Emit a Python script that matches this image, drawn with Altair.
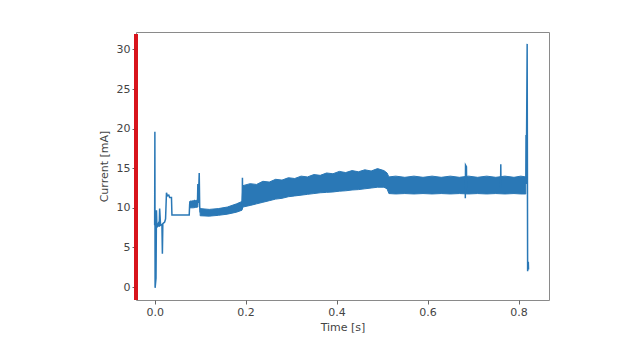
import altair as alt
import pandas as pd

# ---- sparse trace segments (time [s], current [mA]) ----
seg_a_t = [0.000, 0.0005, 0.001, 0.003, 0.004, 0.005, 0.008, 0.010, 0.011, 0.013, 0.016, 0.017,
           0.018, 0.022, 0.024, 0.026, 0.028, 0.031, 0.033, 0.037, 0.038, 0.076, 0.077, 0.079,
           0.085, 0.088, 0.092, 0.094, 0.095, 0.096, 0.098, 0.099, 0.100]
seg_a_i = [7.8, 19.6, -0.1, 1.1, 9.7, 7.5, 8.0, 7.6, 9.9, 7.8, 7.9, 4.2,
           8.0, 8.2, 8.6, 11.9, 11.5, 11.6, 11.3, 11.3, 9.1, 9.1, 10.5, 10.8,
           10.6, 10.9, 10.7, 10.4, 13.0, 10.6, 14.4, 10.2, 9.4]
seg_b_t = [0.1925, 0.1930, 0.1935]
seg_b_i = [9.9, 13.8, 10.2]
seg_c_t = [0.6830, 0.6835, 0.6855, 0.6860]
seg_c_i = [11.2, 15.4, 15.2, 12.5]
seg_d_t = [0.7605, 0.7610, 0.7615]
seg_d_i = [12.5, 15.5, 12.5]
seg_e_t = [0.8160, 0.8165, 0.8170, 0.8190, 0.8200, 0.8215, 0.8220]
seg_e_i = [13.0, 19.2, 13.0, 30.7, 2.0, 3.2, 2.2]

# ---- dense oscillation envelopes ----
block_t = [0.077, 0.085, 0.090, 0.095]
block_lo = [10.0, 10.0, 10.05, 10.1]
block_hi = [10.8, 10.9, 10.9, 11.0]

band_t = [0.100, 0.120, 0.140, 0.160, 0.180, 0.192, 0.194, 0.210, 0.224, 0.238, 0.252, 0.266,
          0.280, 0.294, 0.308, 0.322, 0.336, 0.350, 0.364, 0.378, 0.392, 0.406, 0.420, 0.434,
          0.448, 0.462, 0.476, 0.490, 0.504, 0.511, 0.515, 0.530, 0.550, 0.570, 0.590, 0.610,
          0.630, 0.650, 0.670, 0.690, 0.710, 0.730, 0.750, 0.770, 0.790, 0.805, 0.816]
band_lo = [9.0, 8.95, 9.05, 9.2, 9.45, 9.7, 10.1, 10.3, 10.5, 10.7, 10.9, 11.1,
           11.2, 11.4, 11.5, 11.6, 11.7, 11.8, 11.9, 11.95, 12.0, 12.1, 12.15, 12.25,
           12.3, 12.4, 12.5, 12.6, 12.6, 12.4, 11.8, 11.75, 11.8, 11.75, 11.8, 11.75,
           11.8, 11.75, 11.8, 11.75, 11.8, 11.75, 11.8, 11.75, 11.8, 11.75, 11.75]
band_hi = [9.9, 9.8, 9.9, 10.1, 10.5, 10.8, 12.8, 13.05, 12.95, 13.35, 13.25, 13.6,
           13.5, 13.8, 13.7, 14.0, 13.9, 14.2, 14.1, 14.4, 14.3, 14.6, 14.45, 14.7,
           14.55, 14.8, 14.65, 14.95, 14.7, 14.4, 13.9, 14.0, 13.85, 14.0, 13.85, 14.0,
           13.85, 14.0, 13.85, 14.0, 13.85, 14.0, 13.85, 14.0, 13.85, 14.0, 13.9]

x_ticks = [0.0, 0.2, 0.4, 0.6, 0.8]
y_ticks = [0, 5, 10, 15, 20, 25, 30]

rows = []
for name, ts, vs in [("a", seg_a_t, seg_a_i), ("b", seg_b_t, seg_b_i), ("c", seg_c_t, seg_c_i),
                     ("d", seg_d_t, seg_d_i), ("e", seg_e_t, seg_e_i)]:
    for k, (t, v) in enumerate(zip(ts, vs)):
        rows.append({"t": t, "i": v, "seg": name, "k": k})
line_df = pd.DataFrame(rows)
band_df = pd.concat([
    pd.DataFrame({"t": block_t, "lo": block_lo, "hi": block_hi, "g": "block"}),
    pd.DataFrame({"t": band_t, "lo": band_lo, "hi": band_hi, "g": "band"}),
], ignore_index=True)

blue = "#2a78b6"
xscale = alt.Scale(domain=[-0.041, 0.867], nice=False, zero=False)
yscale = alt.Scale(domain=[-1.64, 32.2], nice=False, zero=False)

band = alt.Chart(band_df).mark_area(color=blue, stroke=blue, strokeWidth=1, clip=True).encode(
    x=alt.X("t:Q", scale=xscale,
            axis=alt.Axis(values=x_ticks, format=".1f", title="Time [s]", titlePadding=4)),
    y=alt.Y("lo:Q", scale=yscale,
            axis=alt.Axis(values=y_ticks, format="d", title="Current [mA]", titlePadding=7)),
    y2="hi:Q",
    detail="g:N",
)

line = alt.Chart(line_df).mark_line(color=blue, strokeWidth=1.5, clip=True).encode(
    x="t:Q", y="i:Q", detail="seg:N", order="k:Q"
)

red = alt.Chart(band_df).mark_rule(color="#d8141c", strokeWidth=3).encode(
    x=alt.value(0), y=alt.value(2), y2=alt.value(268)
)

chart = (band + line + red).properties(
    width=413, height=268,
    autosize=alt.AutoSizeParams(type="none"),
    padding={"left": 128, "top": 24, "right": 83, "bottom": 52},
).configure_axis(
    labelFont="DejaVu Sans", titleFont="DejaVu Sans",
    labelFontSize=11, titleFontSize=11, titleFontWeight="normal",
    labelColor="#444", titleColor="#444", tickColor="#666", tickSize=4,
    grid=False, domain=False,
).configure_view(stroke="#8a8a8a", strokeWidth=1)

chart.save("out.html", embed_options={"renderer": "svg", "actions": False})
